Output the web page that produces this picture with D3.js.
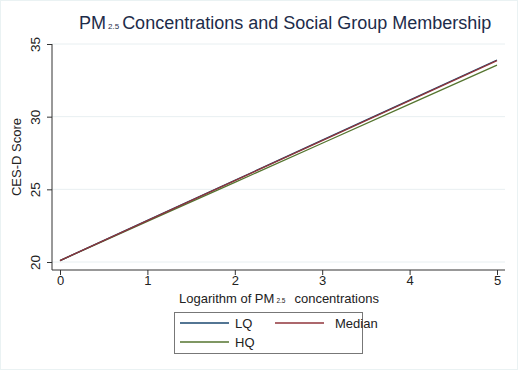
<!DOCTYPE html>
<html>
<head>
<meta charset="utf-8">
<script src="https://cdn.jsdelivr.net/npm/d3@7"></script>
<style>
  body { margin: 0; background: #fff; }
  text { font-family: "Liberation Sans", Arial, sans-serif; }
</style>
</head>
<body>
<div id="chart"></div>
<script>
// data
const xValues = [0, 1, 2, 3, 4, 5];
const lqValues = [20.1, 22.86, 25.62, 28.38, 31.14, 33.9];
const medianValues = [20.1, 22.85, 25.6, 28.35, 31.1, 33.86];
const hqValues = [20.1, 22.79, 25.48, 28.17, 30.86, 33.55];
const yTicks = [20, 25, 30, 35];
const xTicks = [0, 1, 2, 3, 4, 5];
const seriesNames = ["LQ", "Median", "HQ"];
const seriesColors = ["#1a476f", "#90353b", "#55752f"];

const width = 519, height = 371;
const fontFam = "Liberation Sans, Arial, sans-serif";

const svg = d3.select("#chart").append("svg")
    .attr("width", width)
    .attr("height", height);

// faint outer frame like the stata export
svg.append("rect")
    .attr("x", 0.5).attr("y", 0.5)
    .attr("width", width - 2).attr("height", height - 2)
    .attr("fill", "#fff")
    .attr("stroke", "#eaf2f3");

let x = d3.scaleLinear().domain([0, 5]).range([60, 497]);
let y = d3.scaleLinear().domain([20, 35]).range([262, 44]);

let plotLeft = 52, plotRight = 505, plotBottom = 270;

// gridlines
svg.append("g").selectAll("line")
    .data(yTicks)
    .enter().append("line")
    .attr("x1", plotLeft).attr("x2", plotRight)
    .attr("y1", d => y(d)).attr("y2", d => y(d))
    .attr("stroke", "#e8eff1")
    .attr("stroke-width", 1);

// y axis
let yAxis = svg.append("g")
    .attr("transform", `translate(${plotLeft},0)`)
    .call(d3.axisLeft(y).tickValues(yTicks).tickFormat(d3.format("d")).tickSize(5).tickSizeOuter(0));
yAxis.attr("font-family", fontFam);
yAxis.select(".domain").remove();
yAxis.append("line")
    .attr("x1", 0).attr("x2", 0)
    .attr("y1", 44).attr("y2", plotBottom)
    .attr("stroke", "#333");
yAxis.selectAll(".tick line").attr("stroke", "#333");
yAxis.selectAll(".tick text")
    .attr("x", 0).attr("dy", null)
    .attr("transform", "translate(-12,0) rotate(-90)")
    .attr("text-anchor", "middle")
    .attr("font-size", 13.5)
    .attr("fill", "#222");

// x axis
let xAxis = svg.append("g")
    .attr("transform", `translate(0,${plotBottom})`)
    .call(d3.axisBottom(x).tickValues(xTicks).tickFormat(d3.format("d")).tickSize(5).tickSizeOuter(0));
xAxis.attr("font-family", fontFam);
xAxis.select(".domain").remove();
xAxis.append("line")
    .attr("x1", plotLeft).attr("x2", plotRight)
    .attr("y1", 0).attr("y2", 0)
    .attr("stroke", "#333");
xAxis.selectAll(".tick line").attr("stroke", "#333");
xAxis.selectAll(".tick text")
    .attr("y", 6)
    .attr("font-size", 13)
    .attr("fill", "#222");

// series lines
let allSeries = [lqValues, medianValues, hqValues];
let line = d3.line().x((d, i) => x(xValues[i])).y(d => y(d));
// draw HQ first, then LQ, median on top
[2, 0, 1].forEach(k => {
    svg.append("path")
        .datum(allSeries[k])
        .attr("fill", "none")
        .attr("stroke", seriesColors[k])
        .attr("stroke-width", 1.3)
        .attr("d", line);
});

// title
let title = svg.append("text")
    .attr("x", 79).attr("y", 29)
    .attr("fill", "#1e2c4a")
    .attr("font-size", 18);
title.append("tspan").text("PM");
title.append("tspan").attr("font-size", 8).attr("dx", 2).text("2.5");
title.append("tspan").attr("dx", 3).text("Concentrations and Social Group Membership");

// y title
svg.append("text")
    .attr("transform", "translate(21,157) rotate(-90)")
    .attr("text-anchor", "middle")
    .attr("font-size", 13)
    .attr("fill", "#222")
    .text("CES-D Score");

// x title
let xt = svg.append("text")
    .attr("x", 179).attr("y", 303)
    .attr("font-size", 13)
    .attr("fill", "#222");
xt.append("tspan").text("Logarithm of PM");
xt.append("tspan").attr("font-size", 6.5).attr("dx", 2).text("2.5");
xt.append("tspan").attr("dx", 9).text("concentrations");

// legend
let legend = svg.append("g");
legend.append("rect")
    .attr("x", 174.5).attr("y", 312.5)
    .attr("width", 188).attr("height", 41)
    .attr("fill", "#fff")
    .attr("stroke", "#777");

let legendPos = [
    {x: 180, y: 323},
    {x: 275, y: 323},
    {x: 180, y: 342}
];
seriesNames.forEach((name, i) => {
    let p = legendPos[i];
    legend.append("line")
        .attr("x1", p.x).attr("x2", p.x + 49)
        .attr("y1", p.y).attr("y2", p.y)
        .attr("stroke", seriesColors[i])
        .attr("stroke-width", 1.3);
    legend.append("text")
        .attr("x", p.x + (i == 1 ? 60 : 55))
        .attr("y", p.y + 5)
        .attr("font-size", 13)
        .attr("fill", "#222")
        .text(name);
});
</script>
</body>
</html>
